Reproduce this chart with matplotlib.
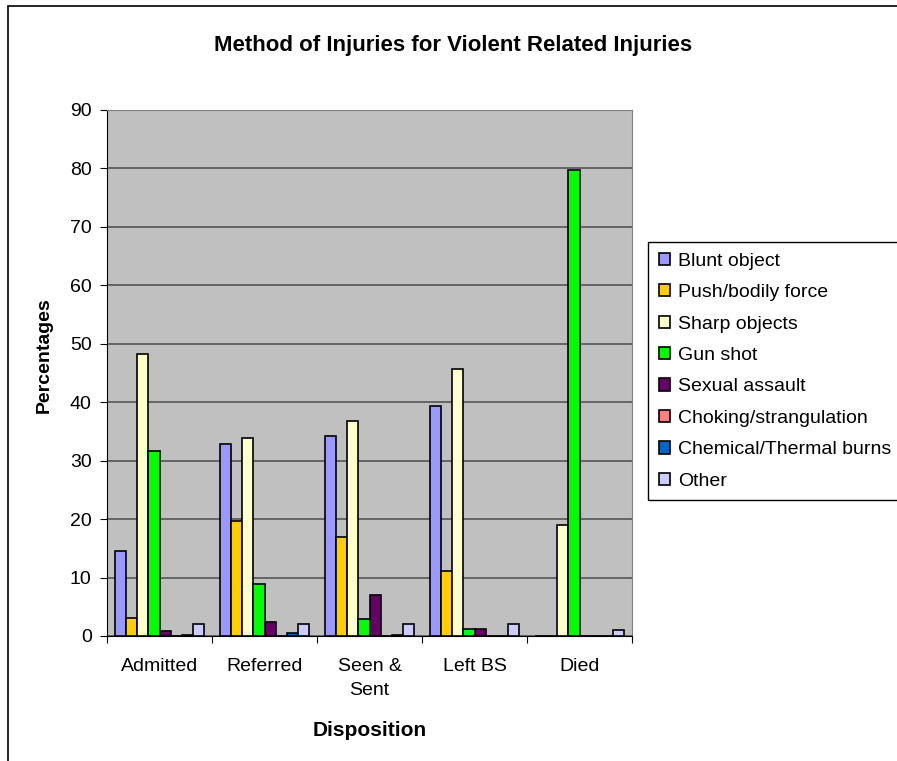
import numpy as np
import matplotlib
matplotlib.use('Agg')
import matplotlib.pyplot as plt
from matplotlib.patches import Rectangle

plt.rcParams['font.family'] = ['Liberation Sans', 'DejaVu Sans']

categories = ['Admitted', 'Referred', 'Seen &\nSent', 'Left BS', 'Died']
series_names = ['Blunt object', 'Push/bodily force', 'Sharp objects', 'Gun shot',
                'Sexual assault', 'Choking/strangulation', 'Chemical/Thermal burns', 'Other']

blunt = [14.5, 32.8, 34.2, 39.4, 0.0]
push = [3.1, 19.7, 16.9, 11.2, 0.0]
sharp = [48.2, 33.8, 36.8, 45.7, 19.0]
gun = [31.6, 8.9, 2.9, 1.2, 79.8]
sexual = [0.8, 2.4, 7.1, 1.2, 0.0]
choking = [0.0, 0.0, 0.0, 0.0, 0.0]
chemical = [0.2, 0.5, 0.2, 0.0, 0.0]
other = [2.1, 2.1, 2.1, 2.1, 1.0]

series = [blunt, push, sharp, gun, sexual, choking, chemical, other]
colors = ['#9999FF', '#FFCC00', '#FFFFCC', '#00FF00',
          '#660066', '#FF8080', '#0066CC', '#CCCCFF']

W, H = 897, 761
fig = plt.figure(figsize=(W / 100, H / 100), dpi=100)
fig.patch.set_facecolor('white')

# outer chart frame (cropped on right/bottom like the original)
fig.patches.append(Rectangle((8 / W, -0.05), 1.0, 1 - 6 / H + 0.05,
                             transform=fig.transFigure, fill=False,
                             edgecolor='black', linewidth=1.2))

ax = fig.add_axes([107 / W, 1 - 636 / H, 525 / W, 526 / H])
ax.set_facecolor('#C0C0C0')

n = len(series)
gap = 1.5
w = 1.0 / (n + gap)
x = np.arange(len(categories))
for i, (vals, c, name) in enumerate(zip(series, colors, series_names)):
    offs = -0.5 + gap * w / 2 + w * i + w / 2
    ax.bar(x + offs, vals, width=w, color=c, edgecolor='black',
           linewidth=1.2, label=name, zorder=3)

ax.set_xlim(-0.5, len(categories) - 0.5)
ax.set_ylim(0, 90)
ax.set_yticks(np.arange(0, 91, 10))
ax.yaxis.grid(True, color='#555555', linewidth=1.2, zorder=1)
ax.set_axisbelow(True)

ax.set_xticks(np.arange(-0.5, len(categories)), minor=False)
ax.set_xticklabels([])
ax.set_xticks(x, minor=True)
ax.set_xticklabels(categories, minor=True, fontsize=14, linespacing=1.55)
ax.tick_params(axis='x', which='minor', length=0, pad=16)
ax.tick_params(axis='x', which='major', length=5, direction='out', color='black')
ax.tick_params(axis='y', length=5, direction='out', labelsize=14, pad=6,
               color='black')

for s in ['top', 'right']:
    ax.spines[s].set_color('#808080')
for s in ['left', 'bottom']:
    ax.spines[s].set_color('black')

fig.text(453 / W, 1 - 45 / H, 'Method of Injuries for Violent Related Injuries',
         fontsize=16, fontweight='bold', ha='center', va='center')
fig.text(44 / W, 1 - 355 / H, 'Percentages', fontsize=14, fontweight='bold',
         rotation=90, ha='center', va='center')
fig.text(370 / W, 1 - 731 / H, 'Disposition', fontsize=15, fontweight='bold',
         ha='center', va='center')

leg = fig.legend(loc='upper left', bbox_to_anchor=(648 / W, 1 - 242 / H),
                 fontsize=14, frameon=True, fancybox=False, framealpha=1,
                 edgecolor='black', handlelength=0.6, handleheight=0.6,
                 handletextpad=0.4, labelspacing=0.74, borderpad=0.55,
                 borderaxespad=0)
leg.get_frame().set_linewidth(1.0)

fig.savefig('out.png', dpi=100, facecolor='white')
